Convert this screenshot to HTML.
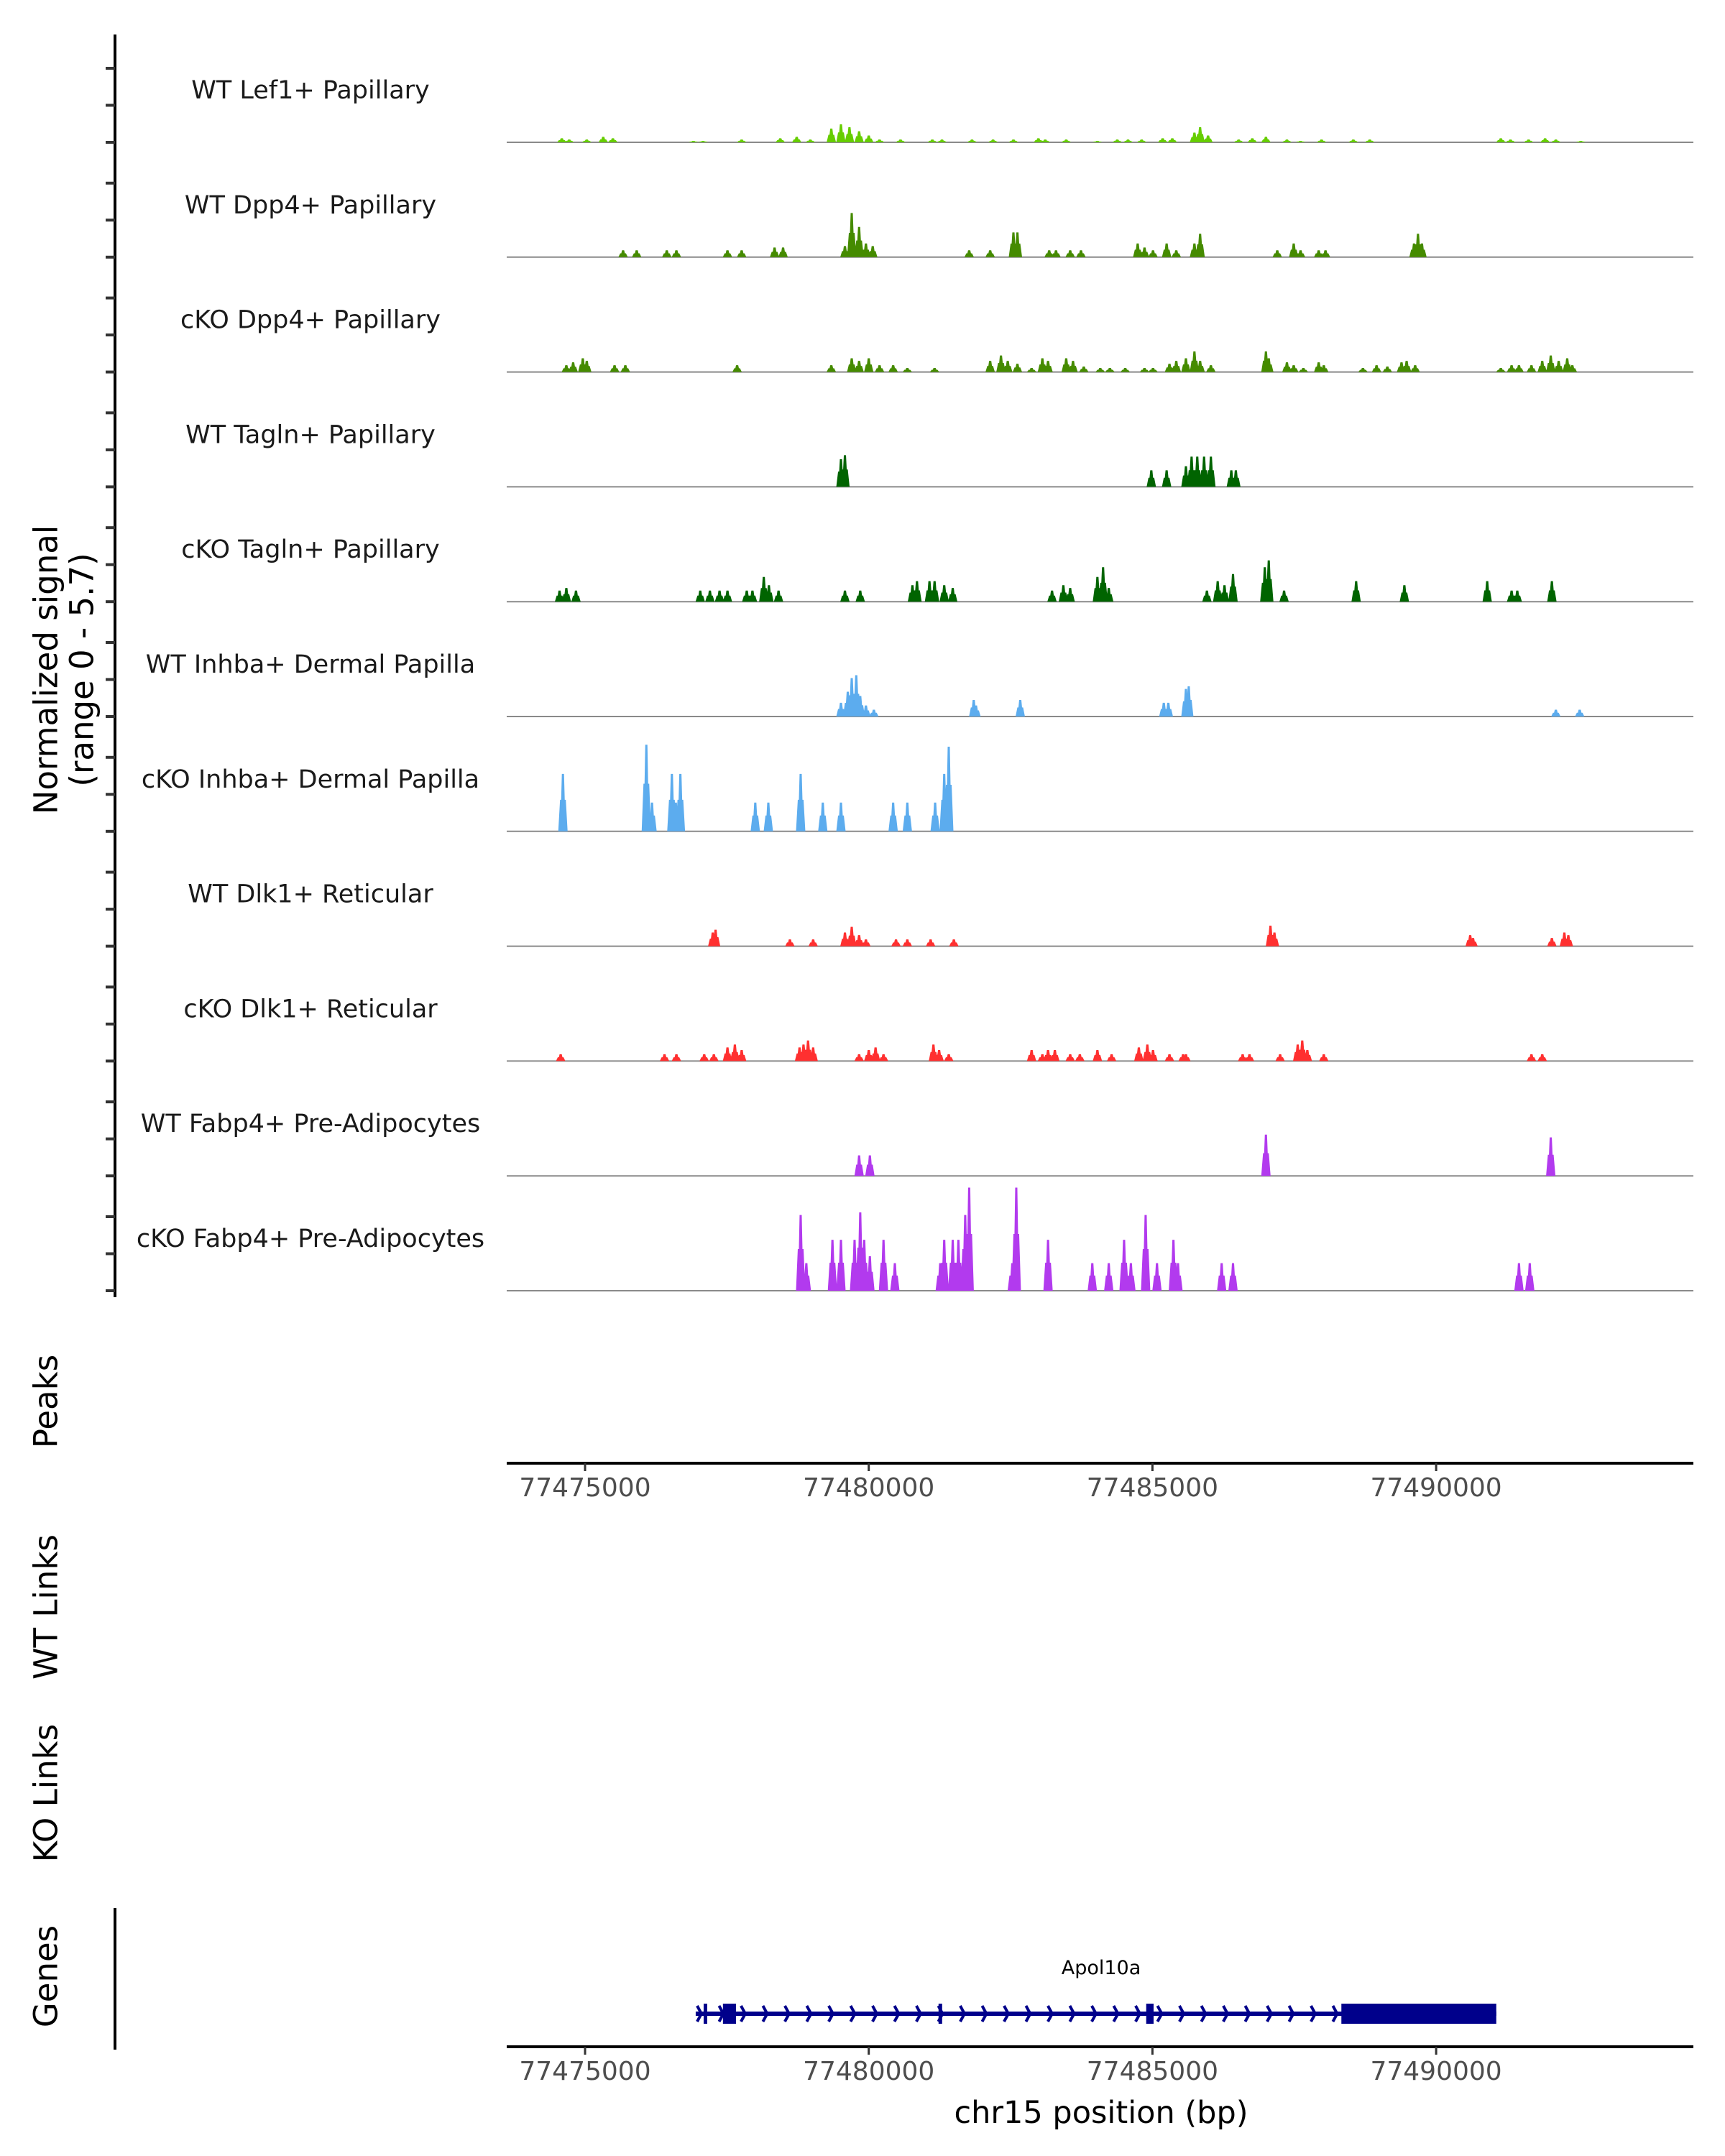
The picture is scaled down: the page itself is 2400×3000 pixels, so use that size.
<!DOCTYPE html>
<html><head><meta charset="utf-8"><style>
html,body{margin:0;padding:0;background:#fff}
svg{display:block;font-family:"DejaVu Sans","Liberation Sans",sans-serif}
</style></head><body>
<svg id="chart" width="2400" height="3000" viewBox="0 0 2400 3000" xmlns="http://www.w3.org/2000/svg">
<g id="static"></g>
</svg>
<script>
// ---- data ----
const trackNames = ["WT Lef1+ Papillary","WT Dpp4+ Papillary","cKO Dpp4+ Papillary","WT Tagln+ Papillary","cKO Tagln+ Papillary","WT Inhba+ Dermal Papilla","cKO Inhba+ Dermal Papilla","WT Dlk1+ Reticular","cKO Dlk1+ Reticular","WT Fabp4+ Pre-Adipocytes","cKO Fabp4+ Pre-Adipocytes"];
const trackColors = ["#66cd00","#458b00","#458b00","#006400","#006400","#5cacee","#5cacee","#ff3030","#ff3030","#b23aee","#b23aee"];
const lef1Pos=[77474.59,77474.72,77475.03,77475.32,77475.49,77476.91,77477.08,77477.76,77478.44,77478.73,77478.97,77479.34,77479.51,77479.66,77479.83,77480.00,77480.19,77480.56,77481.12,77481.29,77481.82,77482.19,77482.55,77482.99,77483.11,77483.48,77484.03,77484.38,77484.57,77484.81,77485.18,77485.35,77485.74,77485.84,77485.98,77486.52,77486.76,77487.00,77487.37,77487.61,77487.98,77488.54,77488.83,77491.14,77491.31,77491.63,77491.92,77492.11,77492.55];
const lef1Val=[0.2,0.14,0.14,0.27,0.2,0.07,0.07,0.14,0.2,0.27,0.14,0.68,0.89,0.75,0.55,0.34,0.14,0.14,0.14,0.14,0.14,0.14,0.14,0.2,0.14,0.14,0.07,0.14,0.14,0.14,0.2,0.2,0.48,0.75,0.34,0.14,0.2,0.27,0.14,0.07,0.14,0.14,0.14,0.2,0.14,0.14,0.2,0.14,0.07];
const wtDpp4Pos=[77475.67,77475.91,77476.44,77476.61,77477.51,77477.76,77478.34,77478.49,77479.58,77479.70,77479.83,77479.95,77480.07,77481.77,77482.14,77482.55,77482.62,77483.18,77483.30,77483.55,77483.74,77484.74,77484.86,77485.01,77485.25,77485.42,77485.74,77485.84,77487.20,77487.49,77487.61,77487.93,77488.05,77489.61,77489.68,77489.75];
const wtDpp4Val=[0.34,0.34,0.34,0.34,0.34,0.34,0.48,0.48,0.55,2.19,1.5,0.68,0.55,0.34,0.34,1.23,1.23,0.34,0.34,0.34,0.34,0.68,0.48,0.34,0.68,0.34,0.68,1.16,0.34,0.68,0.34,0.34,0.34,0.68,1.16,0.68];
const koDpp4Pos=[77474.67,77474.79,77474.96,77475.03,77475.52,77475.71,77477.68,77479.34,77479.70,77479.83,77480.00,77480.19,77480.43,77480.68,77481.16,77482.14,77482.33,77482.45,77482.62,77482.87,77483.06,77483.16,77483.48,77483.60,77483.79,77484.08,77484.25,77484.52,77484.86,77485.01,77485.30,77485.42,77485.59,77485.74,77485.84,77486.03,77487.00,77487.05,77487.37,77487.49,77487.66,77487.93,77488.02,77488.71,77488.95,77489.14,77489.39,77489.48,77489.63,77491.14,77491.33,77491.46,77491.68,77491.87,77492.02,77492.16,77492.31,77492.40];
const koDpp4Val=[0.34,0.48,0.68,0.55,0.34,0.34,0.34,0.34,0.68,0.55,0.68,0.34,0.34,0.2,0.2,0.55,0.82,0.55,0.41,0.2,0.68,0.55,0.68,0.55,0.27,0.2,0.2,0.2,0.2,0.2,0.41,0.55,0.68,1.02,0.55,0.34,1.02,0.68,0.48,0.34,0.2,0.48,0.34,0.2,0.34,0.27,0.48,0.55,0.34,0.2,0.34,0.34,0.34,0.55,0.82,0.55,0.68,0.34];
const wtTaglnPos=[77479.51,77479.58,77484.98,77485.25,77485.59,77485.69,77485.79,77485.91,77486.03,77486.39,77486.47];
const wtTaglnVal=[1.37,1.57,0.82,0.82,1.02,1.5,1.5,1.5,1.5,0.82,0.82];
const koTaglnPos=[77474.55,77474.67,77474.84,77477.03,77477.20,77477.37,77477.51,77477.85,77477.95,77478.15,77478.24,77478.41,77479.58,77479.85,77480.77,77480.85,77481.07,77481.16,77481.33,77481.48,77483.23,77483.43,77483.55,77484.03,77484.13,77484.23,77485.96,77486.15,77486.27,77486.42,77486.98,77487.05,77487.32,77488.59,77489.44,77490.90,77491.33,77491.43,77492.04];
const koTaglnVal=[0.55,0.68,0.55,0.55,0.55,0.55,0.55,0.55,0.55,1.23,0.82,0.55,0.55,0.55,0.82,1.02,1.02,1.02,0.82,0.68,0.55,0.82,0.68,1.23,1.71,0.68,0.55,1.02,0.82,1.37,1.71,2.05,0.55,1.02,0.82,1.02,0.55,0.55,1.02];
const wtInhbaPos=[77479.51,77479.63,77479.70,77479.78,77479.85,77479.95,77480.09,77481.85,77481.89,77482.67,77485.20,77485.28,77485.59,77485.64,77492.11,77492.53];
const wtInhbaVal=[0.68,1.23,1.91,2.05,1.02,0.55,0.34,0.82,0.55,0.82,0.68,0.68,1.37,1.5,0.34,0.34];
const koInhbaPos=[77474.61,77476.08,77476.18,77476.53,77476.60,77476.68,77478.00,77478.23,77478.80,77479.19,77479.51,77480.43,77480.68,77481.17,77481.33,77481.41];
const koInhbaVal=[2.85,4.3,1.43,2.85,1.43,2.85,1.43,1.43,2.85,1.43,1.43,1.43,1.43,1.43,2.85,4.2];
const wtDlk1Pos=[77477.25,77477.30,77478.61,77479.02,77479.58,77479.70,77479.83,77479.95,77480.48,77480.68,77481.09,77481.50,77487.08,77487.15,77490.60,77490.65,77492.04,77492.26,77492.33];
const wtDlk1Val=[0.68,0.82,0.34,0.34,0.68,0.96,0.55,0.34,0.34,0.34,0.34,0.34,1.02,0.68,0.55,0.41,0.41,0.68,0.55];
const koDlk1Pos=[77474.57,77476.40,77476.61,77477.10,77477.27,77477.51,77477.64,77477.76,77478.78,77478.85,77478.93,77479.02,77479.83,77480.00,77480.12,77480.26,77481.14,77481.24,77481.41,77482.87,77483.06,77483.16,77483.28,77483.55,77483.72,77484.03,77484.28,77484.76,77484.91,77485.01,77485.30,77485.54,77485.59,77486.59,77486.71,77487.25,77487.56,77487.64,77487.73,77488.02,77491.68,77491.87];
const koDlk1Val=[0.34,0.34,0.34,0.34,0.34,0.68,0.82,0.55,0.68,0.82,1.02,0.68,0.34,0.55,0.68,0.34,0.82,0.55,0.34,0.55,0.34,0.55,0.55,0.34,0.34,0.55,0.34,0.68,0.82,0.55,0.34,0.34,0.34,0.34,0.34,0.34,0.82,1.02,0.55,0.34,0.34,0.34];
const wtFabp4Pos=[77479.83,77480.02,77487.00,77492.02];
const wtFabp4Val=[1.02,1.02,2.05,1.91];
const koFabp4Pos=[77478.80,77478.90,77479.36,77479.51,77479.75,77479.85,77479.92,77480.02,77480.26,77480.46,77481.26,77481.33,77481.48,77481.58,77481.70,77481.77,77482.53,77482.60,77483.16,77483.94,77484.23,77484.50,77484.62,77484.88,77485.08,77485.37,77485.45,77486.22,77486.42,77491.46,77491.65];
const koFabp4Val=[3.76,1.37,2.53,2.53,2.53,3.89,2.53,1.71,2.53,1.37,1.37,2.53,2.53,2.53,3.76,5.12,1.37,5.12,2.53,1.37,1.37,2.53,1.37,3.76,1.37,2.53,1.37,1.37,1.37,1.37,1.37];
const xTicks=[77475000,77480000,77485000,77490000];
const geneExonStart=[77477.09,77477.43,77481.23,77484.89,77488.33];
const geneExonEnd=[77477.15,77477.66,77481.29,77485.02,77491.06];
const geneStartKb=77476.95, geneEndKb=77491.06;
const signalMax=5.7;

const tracksPos=[lef1Pos,wtDpp4Pos,koDpp4Pos,wtTaglnPos,koTaglnPos,wtInhbaPos,koInhbaPos,wtDlk1Pos,koDlk1Pos,wtFabp4Pos,koFabp4Pos];
const tracksVal=[lef1Val,wtDpp4Val,koDpp4Val,wtTaglnVal,koTaglnVal,wtInhbaVal,koInhbaVal,wtDlk1Val,koDlk1Val,wtFabp4Val,koFabp4Val];

// ---- scales ----
const NS="http://www.w3.org/2000/svg";
const svg=document.getElementById('chart');
const g=document.getElementById('static');
const X0=814, PX_PER_KB=78.94;
function xKb(kb){return X0+(kb-77475)*PX_PER_KB;}
function xBp(bp){return xKb(bp/1000);}
const BASE0=198, TRACK_H=159.8;
function baseY(i){return BASE0+i*TRACK_H;}
function yH(v){return v/signalMax*TRACK_H;}
function mk(tag,attrs,parent){const e=document.createElementNS(NS,tag);for(const k in attrs)e.setAttribute(k,attrs[k]);(parent||g).appendChild(e);return e;}

// left axis
let ax=mk('line',{x1:160,y1:48,x2:160,y2:1805,stroke:'#000','stroke-width':4});


for(let i=0;i<11;i++){
  const b=baseY(i);
  for(let k=0;k<3;k++){
    const t=mk('line',{x1:147,x2:160,y1:b-k*51.5,y2:b-k*51.5,stroke:'#333','stroke-width':4});
    
    
  }
  const bl=mk('line',{x1:705,x2:2356,y1:b,y2:b,stroke:'#8a8a8a','stroke-width':2});
  
  
  const lab=mk('text',{x:432,y:b-61,'text-anchor':'middle','font-size':35,fill:'#1a1a1a'});
  lab.textContent=trackNames[i];
  
  
  // peaks
  let d='';
  const P=tracksPos[i],V=tracksVal[i];
  for(let j=0;j<P.length;j++){
    const cx=xKb(P[j]), h=yH(V[j]);
    d+=`M${cx-6.5},${b}L${cx-4},${b-h*0.55}L${cx-2.5},${b-h*0.55}L${cx-1.5},${b-h}L${cx+1.5},${b-h}L${cx+2.5},${b-h*0.55}L${cx+4},${b-h*0.55}L${cx+6.5},${b}Z`;
  }
  const p=mk('path',{d:d,fill:trackColors[i]});
  
  
}
// y titles
function vtext(x,y,txt,name,size){
  const t=mk('text',{x:x,y:y,transform:`rotate(-90 ${x} ${y})`,'text-anchor':'middle','dominant-baseline':'central','font-size':size||45,fill:'#000'});
  t.textContent=txt;
  
  
}
vtext(64,932,'Normalized signal','y-axis-title');
vtext(114,932,'(range 0 - 5.7)','y-axis-subtitle');
vtext(64,1950,'Peaks','peaks-label');
vtext(64,2236,'WT Links','wt-links-label');
vtext(64,2495,'KO Links','ko-links-label');
vtext(64,2750,'Genes','genes-label');

// x axes
function xAxis(y,name){
  const l=mk('line',{x1:705,x2:2356,y1:y,y2:y,stroke:'#000','stroke-width':4});
  
  
  xTicks.forEach(v=>{
    const tx=xBp(v);
    const t=mk('line',{x1:tx,x2:tx,y1:y,y2:y+11,stroke:'#333','stroke-width':3});
    
    
    const lb=mk('text',{x:tx,y:y+46,'text-anchor':'middle','font-size':36,fill:'#4d4d4d'});
    lb.textContent=String(v);
    
    
  });
}
xAxis(2036,'peaks-x-axis');
xAxis(2848,'genes-x-axis');
const ttl=mk('text',{x:1532,y:2954,'text-anchor':'middle','font-size':43,fill:'#000'});
ttl.textContent='chr15 position (bp)';



// genes axis
const ga=mk('line',{x1:160,y1:2655,x2:160,y2:2852,stroke:'#000','stroke-width':4});



// gene model
const GY=2802, GC='#00008b';
const gl=mk('line',{x1:xKb(geneStartKb),x2:xKb(geneEndKb),y1:GY,y2:GY,stroke:GC,'stroke-width':6});


let ad='';
for(let x=xKb(geneStartKb)+2;x<xKb(geneExonStart[4])-10;x+=30.5){
  ad+=`M${x},${GY-11}L${x+6},${GY}L${x},${GY+11}`;
}
const ar=mk('path',{d:ad,stroke:GC,'stroke-width':4,fill:'none'});


for(let i=0;i<geneExonStart.length;i++){
  const x1=xKb(geneExonStart[i]),x2=xKb(geneExonEnd[i]);
  const r=mk('rect',{x:x1,y:GY-14,width:Math.max(5,x2-x1),height:28,fill:GC});
  
  
}
const gn=mk('text',{x:1532,y:2747,'text-anchor':'middle','font-size':27,fill:'#000'});
gn.textContent='Apol10a';


</script>
</body></html>
